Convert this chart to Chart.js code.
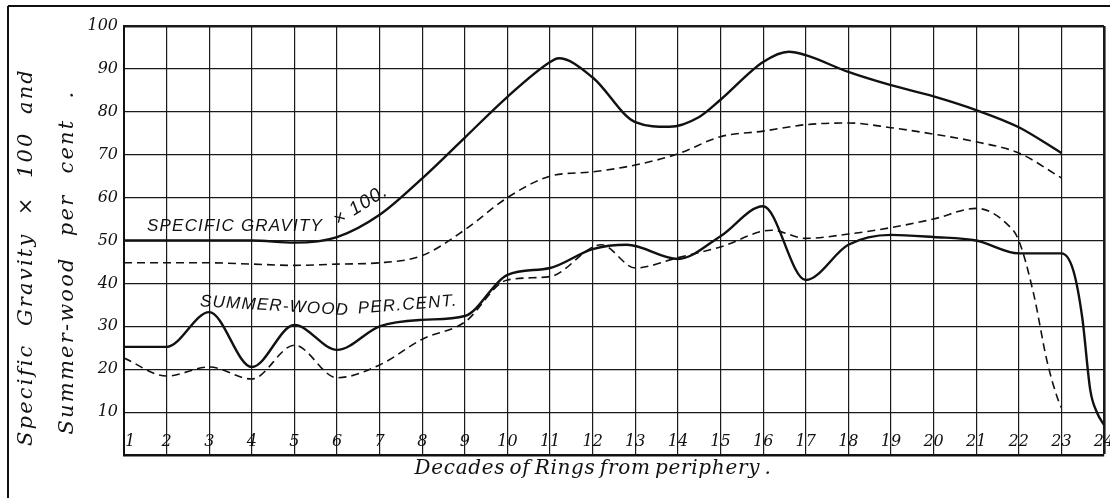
<!DOCTYPE html>
<html>
<head>
<meta charset="utf-8">
<script src="https://cdn.jsdelivr.net/npm/chart.js@4"></script>
<style>
  html, body { margin: 0; padding: 0; background: #fff; }
</style>
</head>
<body>
<canvas id="myChart" width="1110" height="498"></canvas>
<script>
// decades of rings from periphery
const decadeTicks = [1,2,3,4,5,6,7,8,9,10,11,12,13,14,15,16,17,18,19,20,21,22,23,24];
const valueTicks = [10,20,30,40,50,60,70,80,90,100];

// specific gravity x 100, full line
const sgSolidX = [1,2,3,4,5,6,7,8,9,10,11,11.2,12,13,13.8,14.5,15,16,16.6,17,18,19,20,21,22,23];
const sgSolidY = [50,50,50,50,49.5,50.8,56,64.5,74,83.5,91.6,92.5,88,77.6,76.5,78.8,82.8,91.6,94,93.2,89.3,86.2,83.6,80.4,76.4,70.4];

// specific gravity x 100, broken line
const sgDashX = [1,2,3,4,5,6,7,8,9,10,11,12,13,14,15,16,17,18,19,20,21,22,23];
const sgDashY = [44.8,44.8,44.8,44.5,44.2,44.5,44.8,46.5,52.5,60,65,66,67.6,70.2,74.2,75.5,77,77.4,76.3,74.8,73,70.4,64.6];

// summer-wood per cent, full line
const swSolidX = [1,2,3,4,5,6,7,8,9,10,11,12,12.8,14,15,16,17,18,19,20,21,22,23,23.28,23.49,23.68,23.84,24];
const swSolidY = [25.2,25.2,33.3,20.5,30.3,24.5,30,31.5,32.4,42,43.6,48,49,45.7,51,58,40.8,49,51.3,50.8,50,47,47,43,32,15,9.8,7];

// summer-wood per cent, broken line
const swDashX = [1,2,3,4,5,6,7,8,9,10,11,12.2,13,14,15,16.2,17,18,19,20,21,21.75,22,22.35,22.66,22.9,23];
const swDashY = [22.6,18.4,20.5,17.7,25.6,18,21,27,31,40.8,41.6,49,43.6,46,48.5,52.4,50.5,51.5,53,55,57.5,53.6,50,37.5,22,13.5,11];

const yTitle = ["Specific Gravity \u00d7 100 and", "Summer-wood per cent ."];
const xTitle = "Decades of Rings from periphery .";

const notes = [
  { text: "SPECIFIC GRAVITY", x: 1.54, y: 52.2, angle: 0, size: 17 },
  { text: "\u00d7 100.", x: 6.02, y: 53.4, angle: -32, size: 19 },
  { text: "SUMMER-WOOD", x: 2.78, y: 34.7, angle: 3.5, size: 17 },
  { text: "PER.CENT.", x: 6.5, y: 33.0, angle: -4.5, size: 17 }
];

function pts(xs, ys) {
  return xs.map((x, i) => ({ x: x, y: ys[i] }));
}

const serif = "'DejaVu Serif', 'Liberation Serif', serif";

// spread words across a fixed width, centred on x
function spreadText(ctx, text, x, y, width, ls) {
  const words = text.split(" ");
  ctx.letterSpacing = ls + "px";
  const widths = words.map((w) => ctx.measureText(w).width);
  const total = widths.reduce((a, b) => a + b, 0);
  const gap = (width - total) / (words.length - 1);
  let cx = x - width / 2;
  ctx.textAlign = "left";
  words.forEach((w, i) => {
    ctx.fillText(w, cx, y);
    cx += widths[i] + gap;
  });
  ctx.letterSpacing = "0px";
}

const decor = {
  id: "decor",
  afterDraw(chart) {
    const ctx = chart.ctx;
    const xs = chart.scales.x;
    const ys = chart.scales.y;
    ctx.save();
    ctx.strokeStyle = "#111";
    ctx.lineWidth = 2;
    ctx.beginPath();
    ctx.moveTo(8, 6); ctx.lineTo(1110, 6);
    ctx.moveTo(8, 6); ctx.lineTo(8, 498);
    ctx.stroke();

    ctx.fillStyle = "#111";
    ctx.font = "italic 16px " + serif;
    ctx.textBaseline = "middle";
    decadeTicks.forEach((d) => {
      const px = xs.getPixelForValue(d);
      ctx.textAlign = d === 1 ? "left" : "center";
      ctx.fillText(String(d), d === 1 ? px + 1 : px, 442);
    });

    ctx.font = "italic 20px " + serif;
    spreadText(ctx, xTitle, 593, 469, 357, 0.7);

    ctx.font = "italic 21px " + serif;
    ctx.save();
    ctx.translate(27, 257);
    ctx.rotate(-Math.PI / 2);
    spreadText(ctx, yTitle[0], 0, 0, 378, 2.2);
    ctx.restore();
    ctx.save();
    ctx.translate(68, 262);
    ctx.rotate(-Math.PI / 2);
    spreadText(ctx, yTitle[1], 0, 0, 345, 2.2);
    ctx.restore();

    ctx.textAlign = "left";
    ctx.textBaseline = "alphabetic";
    ctx.letterSpacing = "1.2px";
    notes.forEach((n) => {
      ctx.save();
      ctx.font = "italic " + n.size + "px 'Liberation Sans', Arial, sans-serif";
      ctx.translate(xs.getPixelForValue(n.x), ys.getPixelForValue(n.y));
      ctx.rotate(n.angle * Math.PI / 180);
      ctx.fillText(n.text, 0, 0);
      ctx.restore();
    });
    ctx.restore();
  }
};

const ctx = document.getElementById("myChart").getContext("2d");
const chart = new Chart(ctx, {
  type: "line",
  data: {
    datasets: [
      { data: pts(sgSolidX, sgSolidY), borderColor: "#111", borderWidth: 2.4 },
      { data: pts(sgDashX, sgDashY), borderColor: "#111", borderWidth: 1.6, borderDash: [8, 5] },
      { data: pts(swSolidX, swSolidY), borderColor: "#111", borderWidth: 2.4 },
      { data: pts(swDashX, swDashY), borderColor: "#111", borderWidth: 1.6, borderDash: [8, 5] }
    ]
  },
  options: {
    responsive: false,
    animation: false,
    devicePixelRatio: 1,
    elements: {
      point: { radius: 0 },
      line: { cubicInterpolationMode: "monotone", fill: false }
    },
    layout: { padding: { top: 26, right: 6, left: 0, bottom: 0 } },
    plugins: { legend: { display: false }, tooltip: { enabled: false } },
    scales: {
      x: {
        type: "linear",
        min: 1,
        max: 24,
        afterBuildTicks: (s) => { s.ticks = decadeTicks.map((v) => ({ value: v })); },
        ticks: { display: false },
        grid: {
          color: "#1a1a1a",
          lineWidth: (c) => (c.tick && c.tick.value === 24 ? 2.6 : 1.2),
          drawTicks: false
        },
        border: { color: "#111", width: 2.6 },
        afterFit: (s) => { s.height = 43; }
      },
      y: {
        min: 0,
        max: 100,
        afterBuildTicks: (s) => { s.ticks = [0].concat(valueTicks).map((v) => ({ value: v })); },
        ticks: {
          padding: 6,
          color: "#111",
          font: { family: serif, style: "italic", size: 16 },
          callback: (v) => (v === 0 ? "" : v)
        },
        grid: {
          color: "#1a1a1a",
          lineWidth: (c) => (c.tick && c.tick.value === 100 ? 2.6 : 1.2),
          drawTicks: false
        },
        border: { color: "#111", width: 2 },
        afterFit: (s) => { s.width = 124; }
      }
    }
  },
  plugins: [decor]
});
</script>
</body>
</html>
